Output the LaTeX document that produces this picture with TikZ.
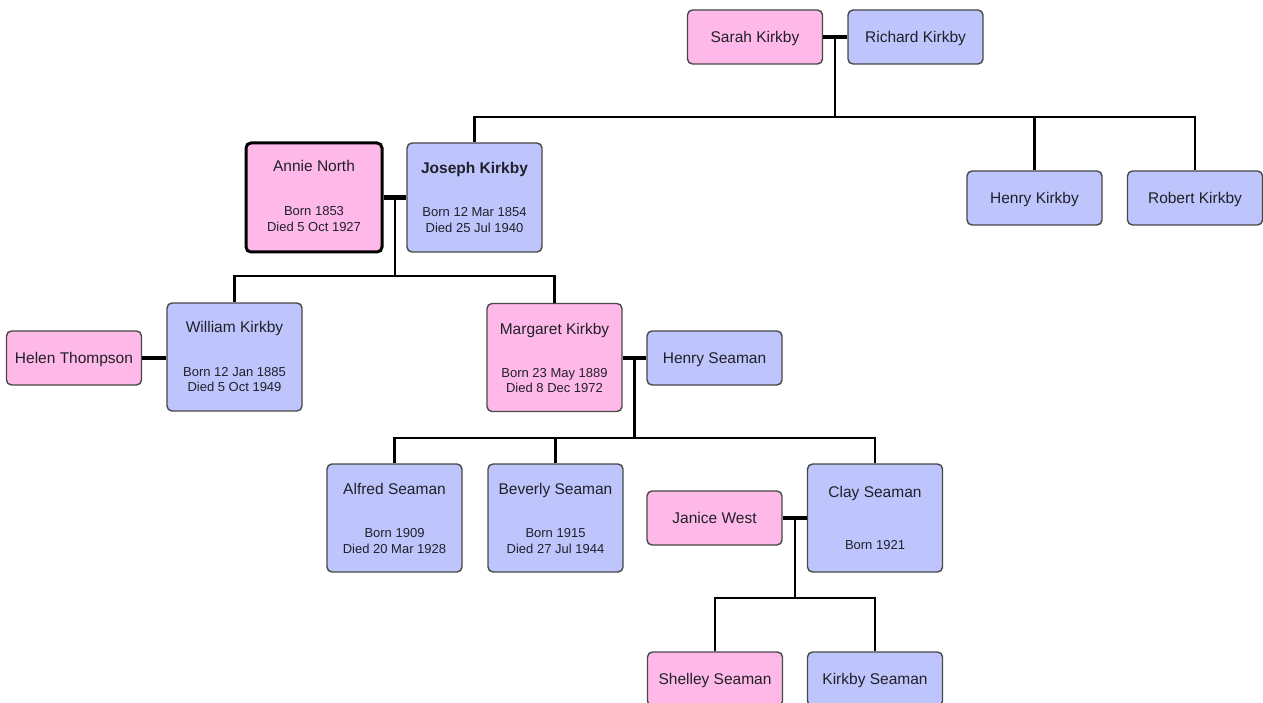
\documentclass[tikz,border=0pt]{standalone}
\usepackage{fontspec}
\setmainfont{Liberation Sans}
\usetikzlibrary{calc}
\definecolor{pinkfill}{HTML}{FFB9E8}
\definecolor{bluefill}{HTML}{BDC5FC}
\definecolor{edgegray}{HTML}{484848}
\definecolor{txt}{HTML}{202028}
\newcommand\nmfont{\fontsize{15.5}{18}\selectfont}
\newcommand\dtfont{\fontsize{13}{15}\selectfont}
\begin{document}
\begin{tikzpicture}[x=1pt,y=-1pt,
 person/.style={draw=edgegray, line width=1.4pt, rounded corners=5pt, inner sep=0pt,
   minimum width=135pt, font=\nmfont, text=txt, text height=11pt, text depth=0pt},
 short/.style={person, minimum height=54pt},
 tall/.style={person, minimum height=108pt},
 female/.style={fill=pinkfill},
 male/.style={fill=bluefill},
 nm/.style={font=\nmfont, text=txt, anchor=base, inner sep=0pt},
 dt/.style={font=\dtfont, text=txt, anchor=base, inner sep=0pt},
 link/.style={line width=2.1pt, draw=black},
 wed/.style={line width=4.2pt, draw=black},
]
\useasboundingbox (0,0) rectangle (1263,703);
\fill[white] (0,0) rectangle (1263,703);

% generation 1
\node[short,female] (sarah) at (755,37) {Sarah Kirkby};
\node[short,male] (richard) at (915.5,37) {Richard Kirkby};

% generation 2
\node[tall,female,draw=black,line width=3pt,minimum width=136pt,minimum height=109pt] (annie) at (314,197.5) {};
\node[nm] (annieN) at ($(annie.north)+(0,30.5)$) {Annie North};
\node[dt] (annieB) at ($(annie.north)+(0,74.5)$) {Born 1853};
\node[dt] (annieD) at ($(annie.north)+(0,90)$) {Died 5 Oct 1927};

\node[tall,male,minimum height=109pt] (joseph) at (474.5,197.5) {};
\node[nm] (josephN) at ($(joseph.north)+(0,31.5)$) {\textbf{Joseph Kirkby}};
\node[dt] (josephB) at ($(joseph.north)+(0,74.5)$) {Born 12 Mar 1854};
\node[dt] (josephD) at ($(joseph.north)+(0,90)$) {Died 25 Jul 1940};

\node[short,male] (henryk) at (1034.5,198) {Henry Kirkby};
\node[short,male] (robert) at (1195,198) {Robert Kirkby};

% generation 3
\node[short,female] (helen) at (74,358) {Helen Thompson};
\node[tall,male] (william) at (234.5,357) {};
\node[nm] (williamN) at ($(william.north)+(0,30.5)$) {William Kirkby};
\node[dt] (williamB) at ($(william.north)+(0,74)$) {Born 12 Jan 1885};
\node[dt] (williamD) at ($(william.north)+(0,89.5)$) {Died 5 Oct 1949};

\node[tall,female] (margaret) at (554.5,357.5) {};
\node[nm] (margaretN) at ($(margaret.north)+(0,31.5)$) {Margaret Kirkby};
\node[dt] (margaretB) at ($(margaret.north)+(0,74.5)$) {Born 23 May 1889};
\node[dt] (margaretD) at ($(margaret.north)+(0,90)$) {Died 8 Dec 1972};

\node[short,male] (henrys) at (714.5,358) {Henry Seaman};

% generation 4
\node[tall,male] (alfred) at (394.5,518) {};
\node[nm] (alfredN) at ($(alfred.north)+(0,31.5)$) {Alfred Seaman};
\node[dt] (alfredB) at ($(alfred.north)+(0,74.5)$) {Born 1909};
\node[dt] (alfredD) at ($(alfred.north)+(0,90)$) {Died 20 Mar 1928};

\node[tall,male] (beverly) at (555.5,518) {};
\node[nm] (beverlyN) at ($(beverly.north)+(0,31.5)$) {Beverly Seaman};
\node[dt] (beverlyB) at ($(beverly.north)+(0,74.5)$) {Born 1915};
\node[dt] (beverlyD) at ($(beverly.north)+(0,90)$) {Died 27 Jul 1944};

\node[short,female] (janice) at (714.5,518) {Janice West};

\node[tall,male] (clay) at (875,518) {};
\node[nm] (clayN) at ($(clay.north)+(0,34.5)$) {Clay Seaman};
\node[dt] (clayB) at ($(clay.north)+(0,86)$) {Born 1921};

% generation 5
\node[short,female] (shelley) at (715,679) {Shelley Seaman};
\node[short,male] (kirkbys) at (875,679) {Kirkby Seaman};

% --- couple Sarah & Richard
\draw[wed] (sarah.east) -- (richard.west);
\coordinate (m1) at ($(sarah.east)!0.5!(richard.west)$);
\coordinate (b1) at (834,117);
\draw[link] (m1 |- sarah.east) -- (m1 |- b1);
\draw[link] (joseph.north) -- (joseph.north |- b1) -- (robert.north |- b1) -- (robert.north);
\draw[link] (henryk.north) -- (henryk.north |- b1);

% --- couple Annie & Joseph
\draw[wed] (annie.east) -- (joseph.west);
\coordinate (m2) at ($(annie.east)!0.5!(joseph.west)$);
\coordinate (b2) at (395,276);
\draw[link] (m2) -- (m2 |- b2);
\draw[link] (william.north) -- (william.north |- b2) -- (margaret.north |- b2) -- (margaret.north);

% --- couple Helen & William
\draw[wed] (helen.east) -- (william.west |- helen.east);

% --- couple Margaret & Henry Seaman
\draw[wed] (margaret.east |- henrys.west) -- (henrys.west);
\coordinate (m3) at ($(margaret.east |- henrys.west)!0.5!(henrys.west)$);
\coordinate (b3) at (635,438);
\draw[link] (m3) -- (m3 |- b3);
\draw[link] (alfred.north) -- (alfred.north |- b3) -- (clay.north |- b3) -- (clay.north);
\draw[link] (beverly.north) -- (beverly.north |- b3);

% --- couple Janice & Clay
\draw[wed] (janice.east) -- (clay.west |- janice.east);
\coordinate (m4) at ($(janice.east)!0.5!(clay.west |- janice.east)$);
\coordinate (b4) at (795,598);
\draw[link] (m4) -- (m4 |- b4);
\draw[link] (shelley.north) -- (shelley.north |- b4) -- (kirkbys.north |- b4) -- (kirkbys.north);
\end{tikzpicture}
\end{document}
